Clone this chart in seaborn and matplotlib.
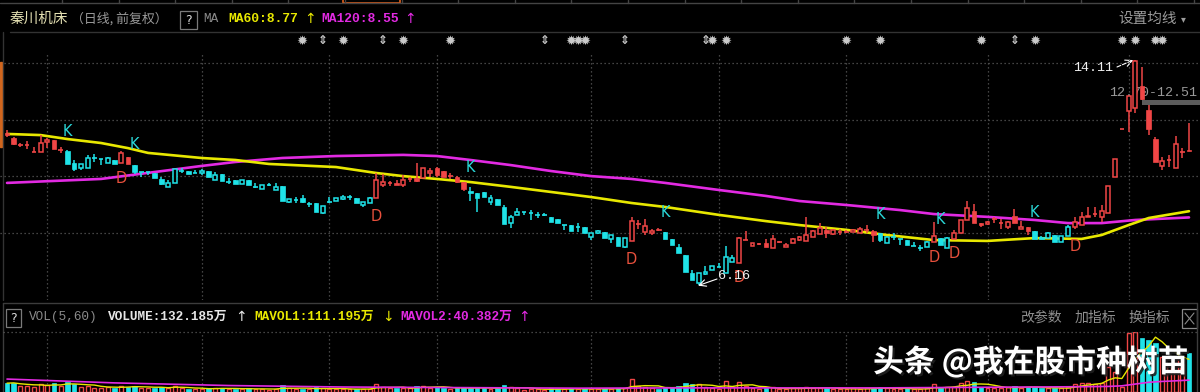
import numpy as np
import pandas as pd
import matplotlib
matplotlib.use("Agg")
import matplotlib.pyplot as plt
import seaborn as sns
from matplotlib.patches import Rectangle
from matplotlib.lines import Line2D
from matplotlib.transforms import blended_transform_factory
import matplotlib.patheffects as pe

# ---------------- data ----------------
STOCK = "秦川机床"
PERIOD = "（日线, 前复权）"

OPEN = [
    11.53, 11.36, 11.11, 11.11, 10.86, 10.86, 11.22, 11.29, 10.93, 10.90,
    10.47, 10.30, 10.30, 10.65, 10.62, 10.47, 10.58, 10.47, 10.69, 10.40,
    10.16, 10.16, 10.12, 9.91, 9.63, 9.77, 10.19, 10.19, 10.12, 10.12,
    10.19, 9.87, 10.08, 9.80, 9.87, 9.73, 9.87, 9.63, 9.55, 9.70,
    9.52, 9.66, 9.10, 9.17, 9.24, 9.02, 9.06, 8.71, 9.10, 9.13,
    9.20, 9.27, 9.24, 8.99, 9.06, 9.24, 9.70, 9.77, 9.77, 9.70,
    9.91, 9.94, 9.94, 10.12, 10.30, 10.19, 10.01, 9.98, 9.80, 9.48,
    9.41, 9.45, 9.10, 9.20, 8.92, 8.35, 8.64, 8.74, 8.71, 8.64,
    8.64, 8.57, 8.49, 8.28, 8.28, 8.21, 8.21, 7.86, 8.00, 8.04,
    7.79, 7.86, 7.51, 7.72, 8.32, 8.04, 8.00, 8.14, 8.04, 7.79,
    7.51, 7.22, 6.59, 6.23, 6.55, 6.69, 6.80, 6.59, 6.98, 6.94,
    7.75, 7.54, 7.61, 7.65, 7.47, 7.68, 7.51, 7.65, 7.75, 7.72,
    7.86, 7.96, 8.11, 7.96, 8.04, 8.04, 8.04, 8.00, 8.11, 8.07,
    8.00, 7.65, 7.86, 7.79, 7.75, 7.54, 7.47, 7.51, 7.68, 7.82,
    7.47, 7.79, 8.00, 8.46, 8.78, 8.35, 8.32, 8.49, 8.35, 8.21,
    8.60, 8.14, 8.21, 8.07, 7.86, 7.82, 7.93, 7.68, 7.89, 8.21,
    8.28, 8.57, 8.67, 8.57, 8.71, 9.98, 11.67, 12.31, 12.42, 13.19,
    12.35, 11.32, 10.37, 10.58, 10.30, 10.86, 10.95,
]
HIGH = [
    11.64, 11.38, 11.18, 11.25, 11.04, 11.46, 11.36, 11.29, 11.04, 10.93,
    10.58, 10.44, 10.76, 10.79, 10.62, 10.69, 10.58, 10.90, 10.69, 10.40,
    10.16, 10.16, 10.12, 9.98, 9.87, 10.26, 10.30, 10.19, 10.23, 10.26,
    10.19, 10.16, 10.08, 9.94, 9.87, 9.87, 9.87, 9.77, 9.70, 9.77,
    9.77, 9.66, 9.20, 9.27, 9.34, 9.10, 9.06, 8.95, 9.27, 9.24,
    9.34, 9.34, 9.24, 9.10, 9.27, 10.12, 10.08, 9.84, 9.87, 10.05,
    9.98, 10.47, 10.30, 10.30, 10.33, 10.19, 10.12, 10.01, 9.80, 9.63,
    9.41, 9.45, 9.34, 9.20, 8.99, 8.64, 8.88, 8.74, 8.81, 8.74,
    8.71, 8.57, 8.49, 8.28, 8.28, 8.35, 8.21, 8.00, 8.11, 8.04,
    7.93, 7.86, 7.82, 8.57, 8.46, 8.49, 8.14, 8.18, 8.04, 7.79,
    7.61, 7.22, 6.69, 6.59, 6.83, 6.83, 6.94, 7.54, 7.22, 7.86,
    8.07, 7.65, 7.65, 7.79, 7.93, 7.72, 7.65, 7.82, 7.89, 8.57,
    8.11, 8.35, 8.21, 8.14, 8.14, 8.11, 8.14, 8.21, 8.28, 8.11,
    8.00, 7.89, 8.00, 7.79, 7.75, 7.68, 7.58, 7.72, 8.39, 7.82,
    7.86, 8.11, 8.46, 9.13, 9.02, 8.35, 8.42, 8.57, 8.49, 8.42,
    8.85, 8.42, 8.21, 8.07, 7.89, 8.04, 7.93, 7.89, 8.28, 8.57,
    8.74, 8.92, 8.92, 8.99, 9.66, 10.62, 11.67, 12.84, 14.11, 13.87,
    12.51, 11.39, 10.69, 10.76, 11.43, 11.00, 11.89,
]
LOW = [
    11.39, 11.12, 11.04, 10.97, 10.86, 10.86, 11.00, 10.97, 10.83, 10.44,
    10.19, 10.23, 10.30, 10.51, 10.40, 10.47, 10.44, 10.47, 10.44, 10.08,
    9.98, 10.05, 9.94, 9.70, 9.63, 9.77, 10.12, 10.08, 10.12, 10.05,
    9.98, 9.87, 9.84, 9.73, 9.73, 9.73, 9.70, 9.59, 9.55, 9.66,
    9.52, 9.13, 9.06, 9.06, 9.06, 8.92, 8.74, 8.67, 9.06, 9.13,
    9.17, 9.17, 9.06, 8.92, 9.06, 9.24, 9.63, 9.66, 9.70, 9.63,
    9.80, 9.80, 9.94, 9.98, 9.98, 9.98, 9.91, 9.77, 9.48, 9.13,
    8.74, 9.27, 8.99, 8.99, 8.32, 8.18, 8.64, 8.64, 8.46, 8.53,
    8.60, 8.39, 8.35, 8.11, 8.07, 8.04, 8.00, 7.75, 7.96, 7.82,
    7.65, 7.54, 7.47, 7.72, 8.14, 7.93, 7.93, 8.07, 7.79, 7.58,
    7.29, 6.62, 6.34, 6.16, 6.52, 6.69, 6.80, 6.59, 6.98, 6.94,
    7.75, 7.54, 7.58, 7.51, 7.47, 7.65, 7.51, 7.65, 7.72, 7.72,
    7.86, 7.96, 7.82, 7.93, 7.93, 8.00, 8.04, 8.00, 8.00, 7.68,
    7.68, 7.65, 7.75, 7.58, 7.58, 7.54, 7.36, 7.51, 7.68, 7.58,
    7.47, 7.79, 8.00, 8.46, 8.35, 8.21, 8.28, 8.35, 8.14, 8.14,
    8.35, 8.14, 7.93, 7.79, 7.79, 7.82, 7.68, 7.68, 7.89, 8.14,
    8.28, 8.57, 8.57, 8.39, 8.71, 9.98, 11.67, 11.57, 12.24, 12.70,
    11.46, 10.51, 10.23, 10.33, 10.30, 10.65, 10.90,
]
CLOSE = [
    11.46, 11.15, 11.11, 11.11, 10.86, 11.18, 11.29, 10.97, 10.93, 10.44,
    10.26, 10.44, 10.65, 10.65, 10.62, 10.65, 10.44, 10.83, 10.44, 10.16,
    10.16, 10.16, 9.94, 9.73, 9.77, 10.26, 10.19, 10.08, 10.12, 10.19,
    9.98, 10.05, 9.84, 9.80, 9.73, 9.87, 9.70, 9.63, 9.70, 9.70,
    9.63, 9.13, 9.20, 9.17, 9.10, 9.02, 8.74, 8.95, 9.10, 9.24,
    9.27, 9.27, 9.06, 9.10, 9.24, 9.87, 9.80, 9.77, 9.70, 9.87,
    9.91, 9.84, 10.30, 10.19, 10.05, 9.98, 10.01, 9.80, 9.55, 9.41,
    9.24, 9.27, 9.24, 8.99, 8.32, 8.57, 8.74, 8.74, 8.71, 8.64,
    8.64, 8.39, 8.35, 8.28, 8.07, 8.21, 8.00, 8.00, 8.07, 7.82,
    7.93, 7.54, 7.82, 8.42, 8.32, 8.25, 8.07, 8.11, 7.79, 7.58,
    7.29, 6.62, 6.34, 6.59, 6.62, 6.83, 6.80, 7.15, 7.12, 7.82,
    7.75, 7.65, 7.61, 7.51, 7.79, 7.68, 7.58, 7.79, 7.86, 7.93,
    8.07, 8.18, 8.00, 8.11, 8.04, 8.04, 8.11, 8.14, 8.11, 7.93,
    7.75, 7.86, 7.86, 7.79, 7.58, 7.54, 7.47, 7.68, 7.89, 7.58,
    7.82, 8.00, 8.46, 8.88, 8.35, 8.28, 8.39, 8.49, 8.35, 8.39,
    8.35, 8.21, 8.07, 7.79, 7.79, 8.00, 7.68, 7.89, 8.21, 8.39,
    8.57, 8.60, 8.67, 8.78, 9.66, 10.62, 11.67, 12.84, 14.08, 12.73,
    11.67, 10.51, 10.54, 10.58, 11.15, 10.86, 10.90,
]
# r = day rose (red), c = day fell (cyan)
RISE = ("rrrrrrrrrc" "cccccccrrc" "cccccccccc" "cccccccccc" "cccccccccc"
        "cccccrrrrr" "rrrrrrrrrc" "cccccccccc" "cccccccccc" "cccrrrrrcc"
        "cccccccccr" "rrrrrrrrrr" "rrrrrrrrrr" "ccccccccrc" "crrrrrrrrr"
        "rrrccccccr" "rrrrrrrrrr" "rrrrrrr")
VOLUME = [  # 万股
    30, 32, 22, 20, 18, 28, 24, 30, 20, 35,
    28, 18, 22, 15, 14, 16, 15, 20, 18, 22,
    14, 12, 15, 18, 14, 22, 12, 10, 10, 11,
    14, 12, 14, 10, 10, 11, 12, 10, 10, 8,
    10, 24, 12, 10, 10, 9, 16, 14, 10, 10,
    9, 9, 11, 10, 11, 28, 16, 12, 12, 14,
    12, 20, 22, 14, 18, 14, 10, 12, 16, 14,
    16, 12, 10, 12, 24, 16, 12, 8, 10, 9,
    8, 12, 10, 10, 12, 10, 12, 10, 9, 12,
    10, 14, 12, 44, 20, 18, 12, 10, 16, 18,
    20, 30, 26, 28, 16, 14, 10, 36, 18, 34,
    20, 14, 10, 12, 16, 10, 10, 12, 12, 18,
    14, 14, 12, 10, 10, 10, 12, 10, 12, 14,
    16, 12, 10, 10, 12, 10, 10, 12, 26, 14,
    16, 18, 30, 36, 34, 18, 14, 12, 14, 16,
    20, 14, 16, 18, 12, 12, 14, 12, 16, 28,
    32, 30, 26, 30, 86, 69, 18, 200, 205, 184,
    177, 167, 120, 95, 115, 94, 132,
]
MA60_IDX = [0, 5, 9, 14, 18, 21, 29, 34, 39, 49, 55, 59, 64, 69, 75, 81, 87, 93,
            98, 106, 113, 118, 125, 131, 138, 146, 153, 160, 163, 167, 170, 176]
MA60_VAL = [11.50, 11.46, 11.32, 11.18, 11.00, 10.83, 10.65, 10.58, 10.44, 10.33,
            10.12, 10.01, 9.91, 9.80, 9.63, 9.45, 9.27, 9.06, 8.92, 8.64, 8.42,
            8.28, 8.11, 7.93, 7.75, 7.72, 7.82, 7.79, 7.93, 8.28, 8.53, 8.77]
MA120_IDX = [0, 14, 29, 34, 41, 49, 59, 64, 69, 75, 81, 87, 93, 98, 106, 113, 118,
             125, 133, 138, 146, 153, 158, 163, 168, 176]
MA120_VAL = [9.77, 9.91, 10.37, 10.51, 10.65, 10.72, 10.76, 10.72, 10.58, 10.40,
             10.19, 10.01, 9.91, 9.77, 9.52, 9.31, 9.13, 8.99, 8.81, 8.67, 8.57,
             8.46, 8.35, 8.35, 8.46, 8.55]
MAVOL2_IDX = [0, 16, 33, 50, 67, 85, 100, 115, 130, 145, 160, 164, 166, 168, 170, 172, 174, 176]
MAVOL2_VAL = [44, 31, 22, 17, 15, 13, 14, 14, 14, 16, 18, 19, 21, 27, 33, 36, 38, 40.4]

MONTH_START = [6, 29, 48, 64, 87, 106, 125, 146, 167]
PRICE_GRID = [8, 10, 12, 14]
K_IDX = [9, 19, 69, 98, 130, 139, 153]
K_PRICE = [11.57, 11.11, 10.30, 8.71, 8.67, 8.46, 8.74]
D_IDX = [17, 55, 93, 109, 138, 141, 159]
D_PRICE = [9.94, 8.60, 7.08, 6.41, 7.12, 7.26, 7.54]
EVENT_IDX = [44, 47, 50, 56, 59, 66, 80, 84, 85, 86, 92, 104, 105, 107, 125, 130,
             145, 150, 153, 166, 168, 171, 172]
EVENT_KIND = "sasassasssaasssssasssss"  # s = info star, a = up/down arrow
PEAK_IDX, PEAK_PRICE = 168, 14.11
TROUGH_IDX, TROUGH_PRICE = 103, 6.16
GAP_START, GAP_LOW, GAP_HIGH = 169, 12.51, 12.70
MA60_LAST, MA120_LAST = 8.77, 8.55
VOL_LAST, MAVOL1_LAST, MAVOL2_LAST = 132.185, 111.195, 40.382

assert len(OPEN) == len(HIGH) == len(LOW) == len(CLOSE) == len(RISE) == len(VOLUME) == 177
assert len(EVENT_IDX) == len(EVENT_KIND)

# ---------------- style ----------------
RED = "#f04646"
CYAN = "#1fe3e8"
YELLOW = "#e8e800"
MAGENTA = "#e22ae2"
GRID = "#5a5a5a"
BG = "#000000"
CJK = ["Noto Sans CJK SC", "DejaVu Sans"]
MONO = ["Liberation Mono", "Noto Sans CJK SC", "DejaVu Sans"]

sns.set_theme(style="dark", rc={"axes.facecolor": BG, "figure.facecolor": BG})
plt.rcParams["font.family"] = ["DejaVu Sans", "Noto Sans CJK SC"]

W, H = 1200, 392
X0, PX = 7.0, 6.716          # first bar centre and bar pitch in pixels
Y8, PPY = 233.0, 28.3        # pixel row of price 8 and pixels per yuan
VOL_PPX = 0.294              # pixels per 万 in the volume pane


def fx(px):
    return px / W


def fy(py):
    return 1 - py / H


def price_at(py):
    return 8 + (Y8 - py) / PPY


def idx_at(px):
    return (px - X0) / PX


fig = plt.figure(figsize=(12, 3.92), dpi=100, facecolor=BG)

# main price pane
ax = fig.add_axes([0, fy(300), 1, (300 - 32) / H])
ax.set_facecolor(BG)
XL = (idx_at(0), idx_at(W))
ax.set_xlim(*XL)
ax.set_ylim(price_at(300), price_at(32))
ax.axis("off")

N = len(OPEN)
idx = np.arange(N)
o, h, l, c = (np.array(a, dtype=float) for a in (OPEN, HIGH, LOW, CLOSE))
col = np.where(np.array(list(RISE)) == "r", RED, CYAN)
BW = 0.68

dot = (0, (1, 2.2))
ax.hlines(PRICE_GRID, XL[0], XL[1], colors=GRID, lw=0.9, linestyles=dot, zorder=1)
ax.vlines(MONTH_START, price_at(300), price_at(52), colors=GRID, lw=0.9,
          linestyles=dot, zorder=1)

# gap band
ax.add_patch(Rectangle((GAP_START, GAP_LOW), XL[1] - GAP_START, GAP_HIGH - GAP_LOW,
                       facecolor="#5c5c5c", edgecolor="none", zorder=1.5))
ax.text(idx_at(1197), GAP_HIGH + 0.05, f"{GAP_HIGH:.2f}-{GAP_LOW:.2f}", color="#9a9a9a",
        fontsize=9.6, family=MONO, ha="right", va="bottom", zorder=1.6)

# moving averages
sns.lineplot(x=MA120_IDX, y=MA120_VAL, ax=ax, color=MAGENTA, lw=1.9,
             estimator=None, sort=False, legend=False, zorder=2)
sns.lineplot(x=MA60_IDX, y=MA60_VAL, ax=ax, color=YELLOW, lw=1.9,
             estimator=None, sort=False, legend=False, zorder=2.1)

# candles
ax.vlines(idx, l, h, colors=col, lw=1.1, zorder=3)
lo = np.minimum(o, c)
bh = np.abs(c - o)
hollow = c > o + 1e-9
filled = c < o - 1e-9
doji = ~(hollow | filled)
ax.bar(idx[filled], bh[filled], bottom=lo[filled], width=BW, color=col[filled],
       edgecolor=col[filled], lw=0.5, zorder=4)
ax.bar(idx[hollow], bh[hollow], bottom=lo[hollow], width=BW - 0.1, facecolor=BG,
       edgecolor=col[hollow], lw=1.1, zorder=4)
ax.hlines(o[doji], idx[doji] - BW / 2, idx[doji] + BW / 2, colors=col[doji], lw=1.2, zorder=4)

# signal letters
for i, p in zip(K_IDX, K_PRICE):
    ax.text(i, p, "K", color="#2ad8d8", fontsize=10.5, ha="center", va="center", zorder=5)
for i, p in zip(D_IDX, D_PRICE):
    ax.text(i, p, "D", color="#e8503c", fontsize=10.5, ha="center", va="center", zorder=5)

# extreme labels
ax.annotate("", xy=(PEAK_IDX - 0.3, PEAK_PRICE), xytext=(idx_at(1117), price_at(67)),
            arrowprops=dict(arrowstyle="->", color="white", lw=0.8, linestyle="--",
                            shrinkA=0, shrinkB=0), zorder=6)
ax.text(idx_at(1113), price_at(68), f"{PEAK_PRICE:.2f}", color="#f0f0f0", fontsize=9.6,
        family=MONO, ha="right", va="center", zorder=6)
ax.annotate("", xy=(TROUGH_IDX - 0.1, TROUGH_PRICE - 0.02), xytext=(idx_at(717), price_at(279)),
            arrowprops=dict(arrowstyle="->", color="white", lw=0.8,
                            shrinkA=0, shrinkB=0), zorder=6)
ax.text(idx_at(718), price_at(276), f"{TROUGH_PRICE:.2f}", color="#f0f0f0", fontsize=9.6,
        family=MONO, ha="left", va="center", zorder=6)

# information markers
tr = blended_transform_factory(ax.transData, fig.transFigure)
for i, k in zip(EVENT_IDX, EVENT_KIND):
    ax.text(i, fy(41), "✹" if k == "s" else "⇕", transform=tr, color="#cacaca",
            fontsize=9.5 if k == "s" else 8.5, ha="center", va="center",
            fontweight="bold", zorder=5)

# volume pane
vx = fig.add_axes([0, 0, 1, (392 - 332) / H])
vx.set_facecolor(BG)
vx.set_xlim(*XL)
vx.set_ylim(0, 60 / VOL_PPX)
vx.axis("off")
vx.vlines(MONTH_START, 0, 60 / VOL_PPX, colors=GRID, lw=0.9, linestyles=dot, zorder=1)
v = np.array(VOLUME, dtype=float)
up = c >= o
vx.bar(idx[up], v[up], width=BW - 0.1, facecolor=BG, edgecolor=RED, lw=1.0, zorder=3)
vx.bar(idx[~up], v[~up], width=BW, color=CYAN, edgecolor=CYAN, lw=0.5, zorder=3)
mavol1 = pd.Series(v).rolling(5, min_periods=1).mean()
sns.lineplot(x=idx, y=mavol1.values, ax=vx, color=YELLOW, lw=1.0, legend=False, zorder=4)
sns.lineplot(x=MAVOL2_IDX, y=MAVOL2_VAL, ax=vx, color=MAGENTA, lw=1.2,
             estimator=None, sort=False, legend=False, zorder=4)

# ---------------- frame / chrome ----------------
def hline(y, x1, x2, color="#3a3a3a", lw=1.0, ls="-"):
    fig.add_artist(Line2D([fx(x1), fx(x2)], [fy(y), fy(y)], color=color, lw=lw, ls=ls,
                          transform=fig.transFigure))


def vline(x, y1, y2, color="#3a3a3a", lw=1.0, ls="-"):
    fig.add_artist(Line2D([fx(x), fx(x)], [fy(y1), fy(y2)], color=color, lw=lw, ls=ls,
                          transform=fig.transFigure))


def box(x1, y1, x2, y2, ec="#7a7a7a", fc="none", lw=0.9):
    fig.add_artist(Rectangle((fx(x1), fy(y2)), fx(x2 - x1), (y2 - y1) / H, ec=ec, fc=fc,
                             lw=lw, transform=fig.transFigure))


# top tab strip
hline(2.7, 0, 1200, color="#444444")
for k in range(21):
    vline(62 + 56.6 * k, 0, 2.7, color="#444444")
box(343, -1, 400, 2.7, ec="#e0601c", lw=1.2)
hline(32, 10, 1200, color="#333333")
vline(2.5, 32, 300, color="#333333")
fig.add_artist(Rectangle((0, fy(147)), fx(2), (147 - 62) / H, color="#d0661e",
                         transform=fig.transFigure))

# title row
fig.text(fx(10), fy(19), STOCK, color="#e4e0b2", fontsize=10.5, family=CJK, va="center")
fig.text(fx(71), fy(19), PERIOD, color="#9a9a9a", fontsize=9.3, family=CJK, va="center")
box(180, 11, 197, 29)
fig.text(fx(188.5), fy(20), "?", color="#d8d8d8", fontsize=9, ha="center", va="center")
fig.text(fx(203), fy(19), "MA", color="#8a8a8a", fontsize=9.2, family=MONO, va="center")
fig.text(fx(228), fy(19), f"MA60:{MA60_LAST:.2f}", color=YELLOW, fontsize=9.4,
         family=MONO, weight="bold", va="center")
fig.text(fx(304), fy(19), "↑", color=YELLOW, fontsize=10, va="center")
fig.text(fx(321), fy(19), f"MA120:{MA120_LAST:.2f}", color=MAGENTA, fontsize=9.4,
         family=MONO, weight="bold", va="center")
fig.text(fx(404), fy(19), "↑", color=MAGENTA, fontsize=10, va="center")
fig.text(fx(1118), fy(19), "设置均线", color="#9c9c9c", fontsize=10.5, family=CJK, va="center")
fig.text(fx(1181), fy(19), "▾", color="#9c9c9c", fontsize=7, va="center")

# volume pane frame and header
hline(303, 3, 1197, color="#3c3c3c")
vline(3, 303, 392, color="#3c3c3c")
vline(1197, 303, 392, color="#3c3c3c")
hline(332, 3, 1197, color=GRID, lw=0.9, ls=(0, (1, 2.2)))
box(6, 309, 21, 327)
fig.text(fx(13.5), fy(318), "?", color="#d8d8d8", fontsize=9, ha="center", va="center")
fig.text(fx(29), fy(317), "VOL(5,60)", color="#8a8a8a", fontsize=9.2, family=MONO, va="center")
fig.text(fx(108), fy(317), f"VOLUME:{VOL_LAST:.3f}万", color="#e6e6e6", fontsize=9.2,
         family=MONO, weight="bold", va="center")
fig.text(fx(235), fy(317), "↑", color="#e6e6e6", fontsize=10, va="center")
fig.text(fx(254), fy(317), f"MAVOL1:{MAVOL1_LAST:.3f}万", color=YELLOW, fontsize=9.2,
         family=MONO, weight="bold", va="center")
fig.text(fx(382), fy(317), "↓", color=YELLOW, fontsize=10, va="center")
fig.text(fx(400), fy(317), f"MAVOL2:{MAVOL2_LAST:.3f}万", color=MAGENTA, fontsize=9.2,
         family=MONO, weight="bold", va="center")
fig.text(fx(518), fy(317), "↑", color=MAGENTA, fontsize=10, va="center")
for x, s in [(1020, "改参数"), (1075, "加指标"), (1128, "换指标")]:
    fig.text(fx(x), fy(318), s, color="#8e8e8e", fontsize=10, family=CJK, va="center")
box(1182, 309, 1197, 328, ec="#8a8a8a")
fig.add_artist(Line2D([fx(1185), fx(1194)], [fy(313), fy(324)], color="#8a8a8a", lw=0.8,
                      transform=fig.transFigure))
fig.add_artist(Line2D([fx(1185), fx(1194)], [fy(324), fy(313)], color="#8a8a8a", lw=0.8,
                      transform=fig.transFigure))

# watermark
fig.text(fx(873), fy(362), "头条 @我在股市种树苗", color="white", fontsize=22.2,
         family=CJK, weight="bold", va="center", zorder=10,
         path_effects=[pe.withSimplePatchShadow(offset=(1.5, -1.5), shadow_rgbFace="#202020",
                                                alpha=0.9)])

fig.savefig("out.png", dpi=100, facecolor=BG)
